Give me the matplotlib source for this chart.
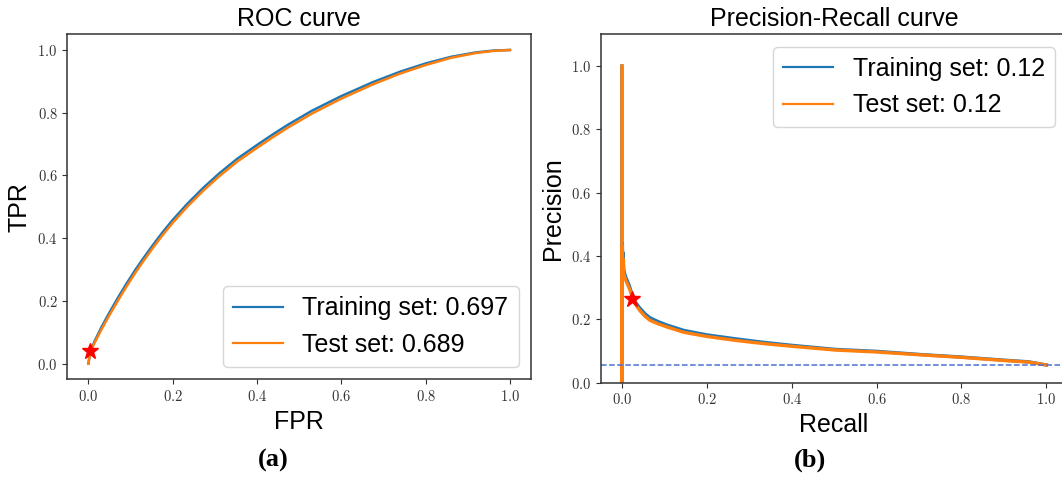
import matplotlib
matplotlib.use("Agg")
import matplotlib.pyplot as plt
from matplotlib.lines import Line2D

plt.rcParams['mathtext.fontset'] = 'cm'
plt.rcParams['font.family'] = ['Liberation Sans', 'DejaVu Sans']

# ---------------- data ----------------
roc_fpr_train = [0.0, 0.005, 0.015, 0.031, 0.05, 0.071, 0.09, 0.111, 0.13, 0.152, 0.175, 0.2,
                 0.235, 0.273, 0.31, 0.353, 0.4, 0.44, 0.474, 0.53, 0.6, 0.676, 0.74, 0.8,
                 0.86, 0.918, 0.96, 1.0]
roc_tpr_train = [0.0, 0.04, 0.072, 0.116, 0.163, 0.212, 0.254, 0.298, 0.335, 0.376, 0.417, 0.458,
                 0.51, 0.561, 0.606, 0.653, 0.697, 0.733, 0.762, 0.806, 0.853, 0.898, 0.931, 0.957,
                 0.978, 0.992, 0.998, 1.0]
roc_fpr_test = roc_fpr_train
roc_tpr_test = [0.0, 0.04, 0.067, 0.109, 0.155, 0.203, 0.245, 0.289, 0.326, 0.367, 0.408, 0.449,
                0.501, 0.552, 0.597, 0.644, 0.688, 0.724, 0.753, 0.797, 0.845, 0.891, 0.925, 0.952,
                0.975, 0.99, 0.997, 1.0]

pr_recall_train = [0.0, 0.0, 0.001, 0.002, 0.003, 0.004, 0.006, 0.01, 0.018, 0.026, 0.034, 0.042,
                   0.054, 0.066, 0.085, 0.106, 0.146, 0.2, 0.265, 0.33, 0.4, 0.504, 0.6, 0.703,
                   0.8, 0.902, 0.958, 1.0]
pr_precision_train = [1.0, 0.0, 0.44, 0.37, 0.41, 0.36, 0.346, 0.33, 0.304, 0.268, 0.25, 0.236,
                      0.218, 0.205, 0.193, 0.182, 0.165, 0.151, 0.139, 0.128, 0.118, 0.105, 0.099,
                      0.089, 0.081, 0.071, 0.066, 0.056]
pr_recall_test = pr_recall_train
pr_precision_test = [1.0, 0.0, 0.43, 0.36, 0.39, 0.35, 0.335, 0.32, 0.296, 0.262, 0.243, 0.228,
                     0.21, 0.197, 0.186, 0.176, 0.159, 0.146, 0.134, 0.124, 0.115, 0.103, 0.097,
                     0.088, 0.08, 0.07, 0.065, 0.056]

roc_star = (0.0045, 0.041)
pr_star = (0.024, 0.264)
baseline_precision = 0.055

roc_labels = ['Training set: 0.697', 'Test set: 0.689']
pr_labels = ['Training set: 0.12', 'Test set: 0.12']
tick_values = [0.0, 0.2, 0.4, 0.6, 0.8, 1.0]
tick_labels = ['$0.0$', '$0.2$', '$0.4$', '$0.6$', '$0.8$', '$1.0$']

# ---------------- figure ----------------
W, H = 1062, 479
fig = plt.figure(figsize=(W / 100, H / 100), dpi=100)

def frac(x0, y0, x1, y1):
    return [x0 / W, 1 - y1 / H, (x1 - x0) / W, (y1 - y0) / H]

ax1 = fig.add_axes(frac(67.3, 34.3, 531, 379.3))
ax2 = fig.add_axes(frac(600.7, 34.3, 1067.5, 382.7))

blue = '#1f77b4'
orange = '#ff7f0e'

def legend_handles():
    return [Line2D([], [], color=blue, lw=1.6), Line2D([], [], color=orange, lw=1.6)]

# ROC
ax1.plot(roc_fpr_train, roc_tpr_train, color=blue, lw=1.8)
ax1.plot(roc_fpr_test, roc_tpr_test, color=orange, lw=1.8)
ax1.plot([roc_star[0]], [roc_star[1]], marker='*', color='red', ms=12, ls='none')
ax1.set_xlim(-0.05, 1.05)
ax1.set_ylim(-0.05, 1.05)
ax1.set_title('ROC curve', fontsize=18)
ax1.set_xlabel('FPR', fontsize=18)
ax1.set_ylabel('TPR', fontsize=18)
ax1.legend(legend_handles(), roc_labels, loc='lower right', fontsize=18)

# PR
ax2.plot(pr_recall_train, pr_precision_train, color=blue, lw=2.4)
ax2.plot(pr_recall_test, pr_precision_test, color=orange, lw=2.4)
ax2.axhline(baseline_precision, color='#4a72d6', lw=1.1, ls='--')
ax2.plot([pr_star[0]], [pr_star[1]], marker='*', color='red', ms=12, ls='none')
ax2.set_xlim(-0.05, 1.05)
ax2.set_ylim(0, 1.1)
ax2.set_title('Precision-Recall curve', fontsize=18)
ax2.set_xlabel('Recall', fontsize=18)
ax2.set_ylabel('Precision', fontsize=18)
ax2.legend(legend_handles(), pr_labels, loc='upper right', fontsize=18)

for ax in (ax1, ax2):
    ax.set_xticks(tick_values, tick_labels)
    ax.set_yticks(tick_values, tick_labels)
    ax.tick_params(labelsize=10.5, colors='#333333')
    for s in ax.spines.values():
        s.set_color('#333333')
        s.set_linewidth(1.1)

fig.text(273.6 / W, 1 - 460 / H, '(a)', ha='center', va='center',
         fontsize=19, fontweight='bold', family=['Liberation Serif', 'DejaVu Serif'])
fig.text(810 / W, 1 - 460 / H, '(b)', ha='center', va='center',
         fontsize=19, fontweight='bold', family=['Liberation Serif', 'DejaVu Serif'])

fig.savefig('out.png', dpi=100)
